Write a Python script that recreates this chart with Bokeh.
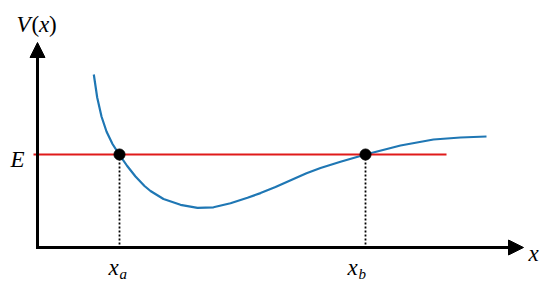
from bokeh.plotting import figure
from bokeh.models import Arrow, NormalHead, Range1d
from bokeh.core.properties import value
from bokeh.embed import file_html
from bokeh.resources import INLINE

# potential curve V(x) (axis origin = (0, 0))
curve_x = [1.126, 1.194, 1.28, 1.38, 1.50, 1.626, 1.794, 1.96, 2.14, 2.26, 2.52, 2.86,
           3.20, 3.52, 3.86, 4.20, 4.46, 4.76, 5.12, 5.38, 5.66, 6.06, 6.56, 7.26, 7.92,
           8.46, 8.98]
curve_v = [3.46, 3.00, 2.62, 2.32, 2.07, 1.874, 1.63, 1.42, 1.23, 1.13, 0.97, 0.854,
           0.792, 0.804, 0.886, 0.994, 1.088, 1.21, 1.37, 1.484, 1.59, 1.716, 1.86, 2.04,
           2.16, 2.20, 2.22]

E = 1.86
turning_x = [1.64, 6.56]
turning_labels = ["a", "b"]
e_line_x = [-0.08, 8.18]
x_axis_end = 9.72
y_axis_end = 4.10

FONT = value("Liberation Serif")

p = figure(width=550, height=283, output_backend="svg", toolbar_location=None,
           x_range=Range1d(-0.74, 10.26), y_range=Range1d(-0.72, 4.94),
           min_border=0, outline_line_color=None)
p.axis.visible = False
p.grid.visible = False

# curve
p.line(curve_x, curve_v, line_color="#1f77b4", line_width=2.2, line_join="round")
# energy line
p.line(e_line_x, [E, E], line_color="#e01a1a", line_width=2)
# dotted drops
for tx in turning_x:
    p.line([tx, tx], [E, 0], line_color="black", line_width=1.8, line_dash="2 2")
p.scatter(turning_x, [E] * len(turning_x), size=11, fill_color="black", line_color="black")

# axes with arrowheads
p.add_layout(Arrow(x_start=0, y_start=-0.03, x_end=0, y_end=y_axis_end,
                   line_width=3, line_color="black",
                   end=NormalHead(size=15, fill_color="black", line_color="black", line_width=1)))
p.add_layout(Arrow(x_start=-0.03, y_start=0, x_end=x_axis_end, y_end=0,
                   line_width=3, line_color="black",
                   end=NormalHead(size=15, fill_color="black", line_color="black", line_width=1)))

common = dict(text_font=FONT, text_color="black", text_font_size="23px",
              text_baseline="alphabetic")

# axis label V(x): italic letters, upright parentheses
parts = ["V", "(", "x", ")"]
part_offsets = [-21, -6, 1.5, 11.5]
part_styles = ["italic", "normal", "italic", "normal"]
for t, xo, st in zip(parts, part_offsets, part_styles):
    p.text(x=[0], y=[y_axis_end], text=[t], text_align="left", x_offset=xo, y_offset=-18,
           text_font_style=st, **common)

p.text(x=[x_axis_end], y=[0], text=["x"], text_align="left", x_offset=5, y_offset=6,
       text_font_style="italic", **common)
p.text(x=[0], y=[E], text=["E"], text_align="center", x_offset=-20, y_offset=5,
       text_font_style="italic", **common)

# turning point labels
offs_main = [-11, -18]
offs_sub = [0, -7]
for tx, lab, om, osb in zip(turning_x, turning_labels, offs_main, offs_sub):
    p.text(x=[tx], y=[0], text=["x"], text_align="left", x_offset=om, y_offset=20,
           text_font_style="italic", **common)
    p.text(x=[tx], y=[0], text=[lab], text_align="left", text_baseline="alphabetic",
           x_offset=osb, y_offset=26, text_font_size="15px", text_font_style="italic",
           text_font=FONT, text_color="black")

open("out.html", "w").write(file_html(p, INLINE))
